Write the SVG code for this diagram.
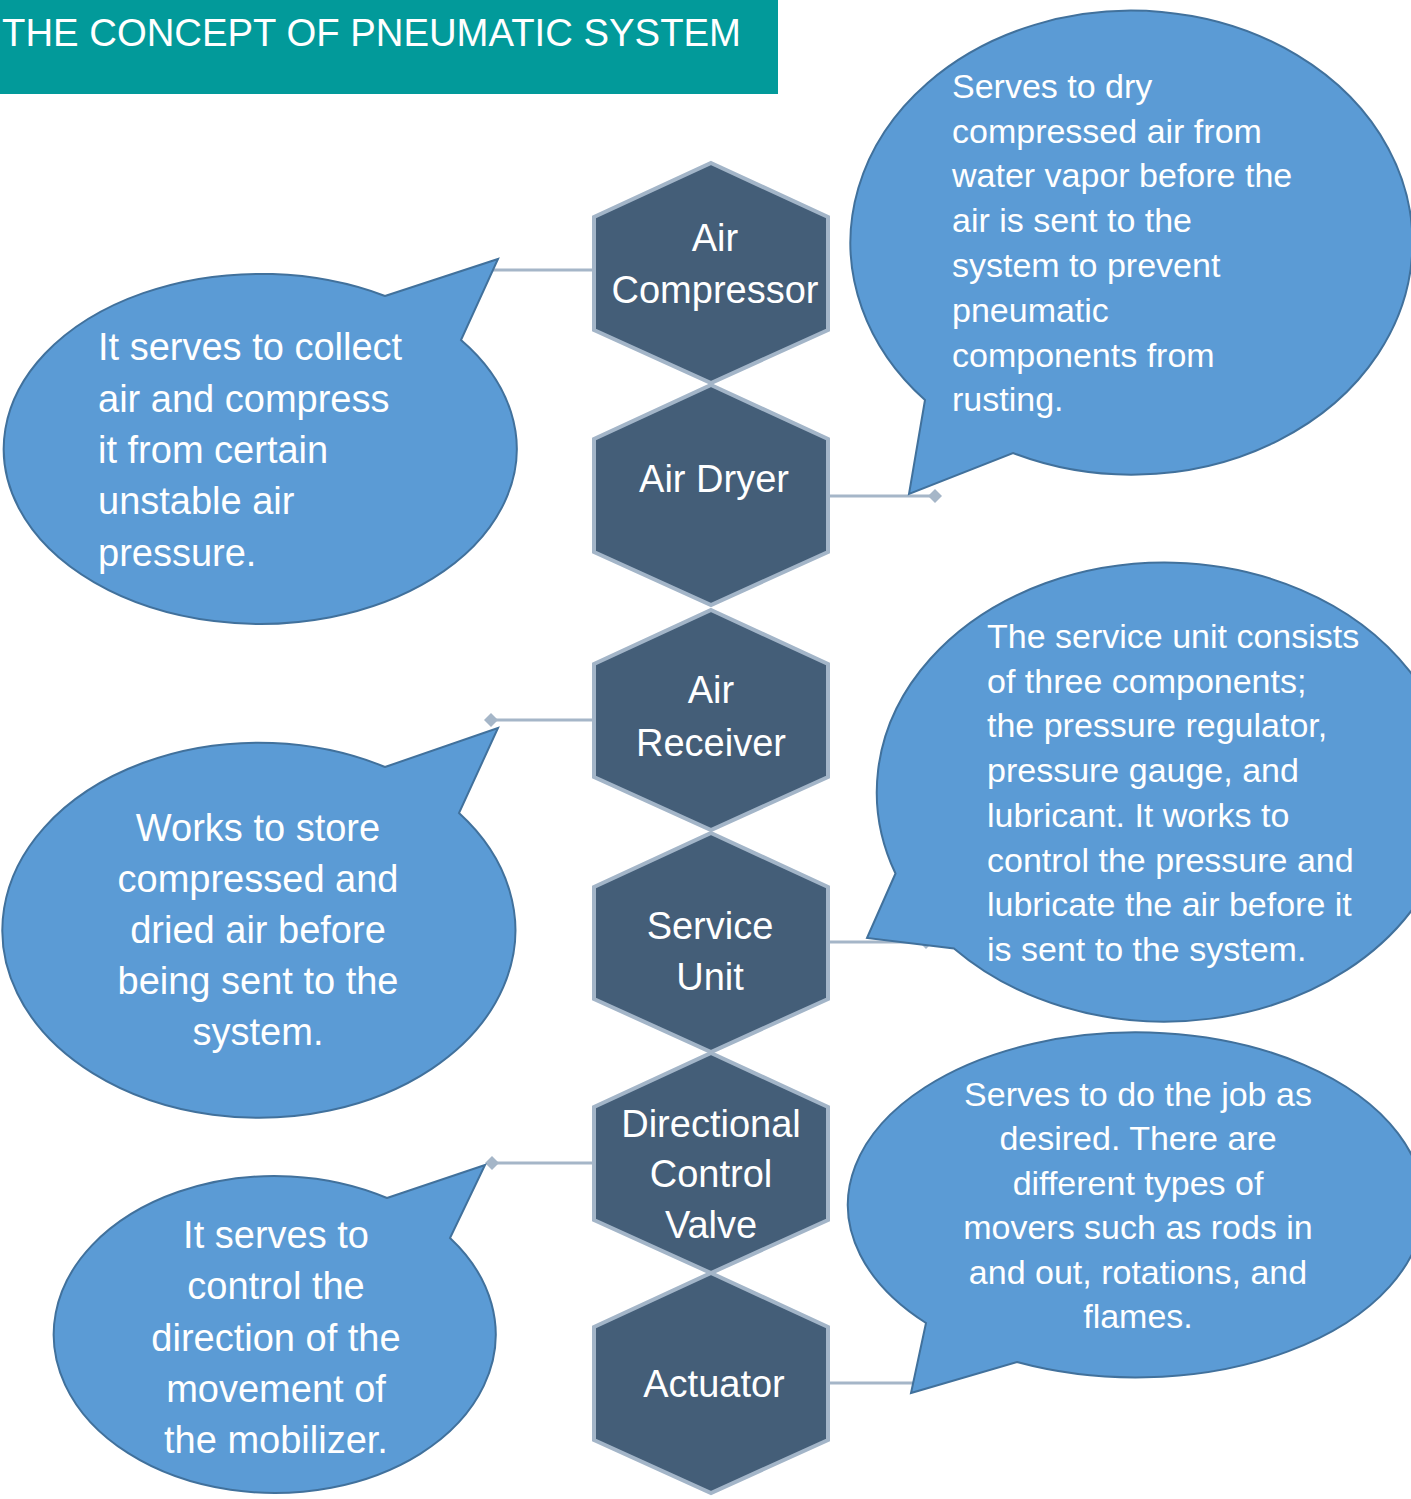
<svg xmlns="http://www.w3.org/2000/svg" width="1411" height="1499" viewBox="0 0 1411 1499">
<style>
  .hex { fill: #445E78; stroke: #A3B5C8; stroke-width: 4; stroke-linejoin: miter; }
  .hext { fill: #FFFFFF; font-family: "Liberation Sans", Arial, sans-serif; font-size: 38px; text-anchor: middle; }
  .bub { fill: #5B9BD5; stroke: #41719C; stroke-width: 2; stroke-linejoin: miter; }
  .bl { fill: #FFFFFF; font-family: "Liberation Sans", Arial, sans-serif; font-size: 38px; }
  .br { fill: #FFFFFF; font-family: "Liberation Sans", Arial, sans-serif; font-size: 34px; }
  .mid { text-anchor: middle; }
  .conn { stroke: #A5B6C8; stroke-width: 3; fill: none; }
</style>
<defs>
  <marker id="dia" markerUnits="userSpaceOnUse" markerWidth="16" markerHeight="16" refX="8" refY="8" orient="auto">
    <path d="M1,8 L8,1 L15,8 L8,15 Z" fill="#A5B6C8"/>
  </marker>
</defs>
<rect width="1411" height="1499" fill="#FFFFFF"/>

<g id="title">
  <rect x="0" y="0" width="778" height="94" fill="#029A9A"/>
  <text x="2" y="46" fill="#FFFFFF" font-family="'Liberation Sans', Arial, sans-serif" font-size="38" textLength="739" lengthAdjust="spacingAndGlyphs">THE CONCEPT OF PNEUMATIC SYSTEM</text>
</g>

<g id="connectors">
  <line class="conn" x1="594" y1="270" x2="488" y2="270"/>
  <line class="conn" x1="828" y1="496" x2="935" y2="496" marker-end="url(#dia)"/>
  <line class="conn" x1="594" y1="720" x2="491" y2="720" marker-end="url(#dia)"/>
  <line class="conn" x1="828" y1="942" x2="926" y2="942" marker-end="url(#dia)"/>
  <line class="conn" x1="594" y1="1163" x2="492" y2="1163" marker-end="url(#dia)"/>
  <line class="conn" x1="828" y1="1383" x2="925" y2="1383"/>
</g>

<g id="node-air-compressor">
  <polygon class="hex" points="711,163 828,217 828,330 711,383 594,330 594,217"/>
  <text class="hext" x="715" y="251">Air</text>
  <text class="hext" x="715" y="303">Compressor</text>
</g>
<g id="node-air-dryer">
  <polygon class="hex" points="711,385 828,439 828,552 711,605 594,552 594,439"/>
  <text class="hext" x="714" y="492">Air Dryer</text>
</g>
<g id="node-air-receiver">
  <polygon class="hex" points="711,610 828,664 828,777 711,830 594,777 594,664"/>
  <text class="hext" x="711" y="703">Air</text>
  <text class="hext" x="711" y="756">Receiver</text>
</g>
<g id="node-service-unit">
  <polygon class="hex" points="711,833 828,887 828,999 711,1052 594,999 594,887"/>
  <text class="hext" x="710" y="939">Service</text>
  <text class="hext" x="710" y="990">Unit</text>
</g>
<g id="node-directional-control-valve">
  <polygon class="hex" points="711,1053 828,1107 828,1220 711,1273 594,1220 594,1107"/>
  <text class="hext" x="711" y="1137">Directional</text>
  <text class="hext" x="711" y="1187">Control</text>
  <text class="hext" x="711" y="1238">Valve</text>
</g>
<g id="node-actuator">
  <polygon class="hex" points="711,1273 828,1327 828,1440 711,1493 594,1440 594,1327"/>
  <text class="hext" x="714" y="1397">Actuator</text>
</g>

<g id="callout-compressor">
  <path class="bub" d="M385,296 L498,259 L461,340 A256.5 175 0 1 1 385,296 Z"/>
  <text class="bl" x="98" y="360">It serves to collect</text>
  <text class="bl" x="98" y="412">air and compress</text>
  <text class="bl" x="98" y="463">it from certain</text>
  <text class="bl" x="98" y="514">unstable air</text>
  <text class="bl" x="98" y="566">pressure.</text>
</g>

<g id="callout-dryer">
  <path class="bub" d="M925,400 L909,494 L1013,453 A281 232 0 1 0 925,400 Z"/>
  <text class="br" x="952" y="98">Serves to dry</text>
  <text class="br" x="952" y="143">compressed air from</text>
  <text class="br" x="952" y="187">water vapor before the</text>
  <text class="br" x="952" y="232">air is sent to the</text>
  <text class="br" x="952" y="277">system to prevent</text>
  <text class="br" x="952" y="322">pneumatic</text>
  <text class="br" x="952" y="367">components from</text>
  <text class="br" x="952" y="411">rusting.</text>
</g>

<g id="callout-receiver">
  <path class="bub" d="M385,767 L498,728 L459,813 A256.5 187.5 0 1 1 385,767 Z"/>
  <text class="bl mid" x="258" y="841">Works to store</text>
  <text class="bl mid" x="258" y="892">compressed and</text>
  <text class="bl mid" x="258" y="943">dried air before</text>
  <text class="bl mid" x="258" y="994">being sent to the</text>
  <text class="bl mid" x="258" y="1045">system.</text>
</g>

<g id="callout-service-unit">
  <path class="bub" d="M895.5,873.5 L867,938 L954,948.5 A288 229.5 0 1 0 895.5,873.5 Z"/>
  <text class="br" x="987" y="648">The service unit consists</text>
  <text class="br" x="987" y="693">of three components;</text>
  <text class="br" x="987" y="737">the pressure regulator,</text>
  <text class="br" x="987" y="782">pressure gauge, and</text>
  <text class="br" x="987" y="827">lubricant. It works to</text>
  <text class="br" x="987" y="872">control the pressure and</text>
  <text class="br" x="987" y="916">lubricate the air before it</text>
  <text class="br" x="987" y="961">is sent to the system.</text>
</g>

<g id="callout-valve">
  <path class="bub" d="M387,1198 L485,1165 L450,1238 A221 158.5 0 1 1 387,1198 Z"/>
  <text class="bl mid" x="276" y="1248">It serves to</text>
  <text class="bl mid" x="276" y="1299">control the</text>
  <text class="bl mid" x="276" y="1351">direction of the</text>
  <text class="bl mid" x="276" y="1402">movement of</text>
  <text class="bl mid" x="276" y="1453">the mobilizer.</text>
</g>

<g id="callout-actuator">
  <path class="bub" d="M926,1323 L911,1393 L1017,1362 A288 172.5 0 1 0 926,1323 Z"/>
  <text class="br mid" x="1138" y="1106">Serves to do the job as</text>
  <text class="br mid" x="1138" y="1150">desired. There are</text>
  <text class="br mid" x="1138" y="1195">different types of</text>
  <text class="br mid" x="1138" y="1239">movers such as rods in</text>
  <text class="br mid" x="1138" y="1284">and out, rotations, and</text>
  <text class="br mid" x="1138" y="1328">flames.</text>
</g>
</svg>
